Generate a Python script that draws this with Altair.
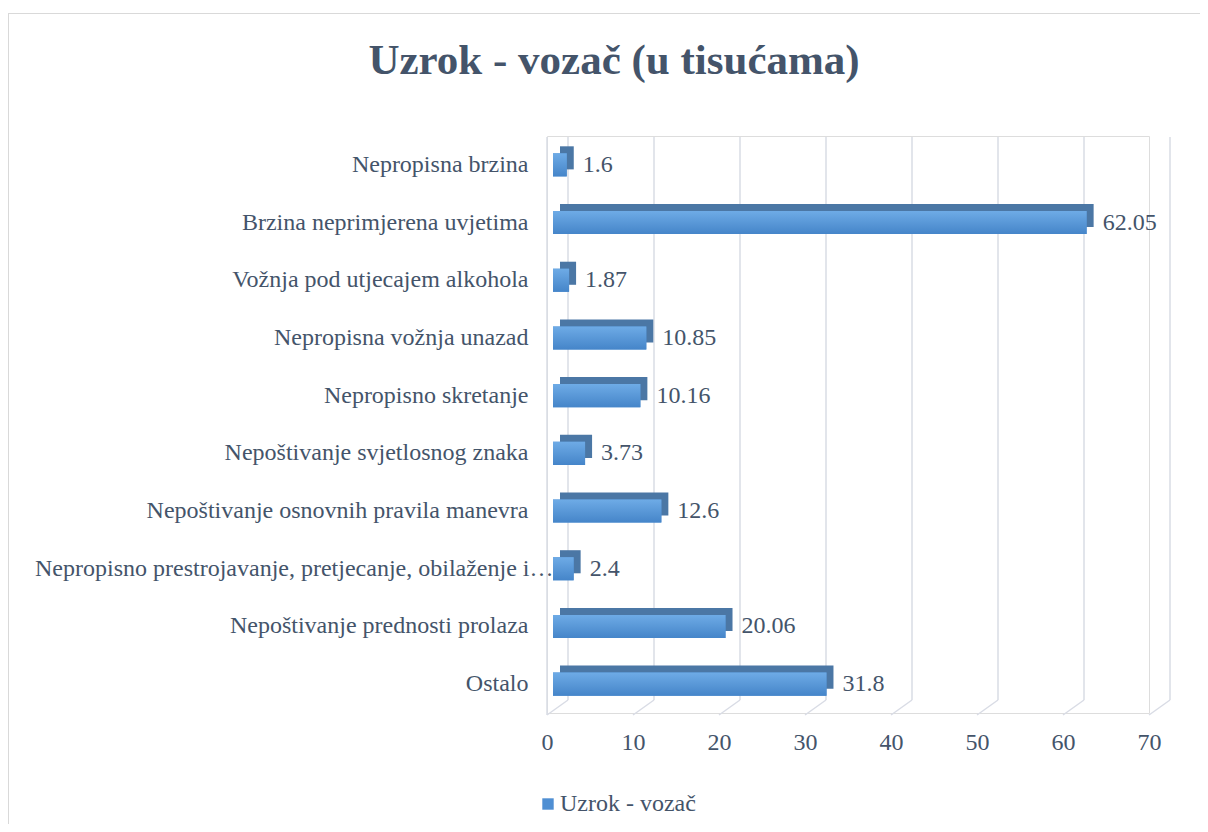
import altair as alt
import pandas as pd

title_text = "Uzrok - vozač (u tisućama)"
categories = [
    "Nepropisna brzina",
    "Brzina neprimjerena uvjetima",
    "Vožnja pod utjecajem alkohola",
    "Nepropisna vožnja unazad",
    "Nepropisno skretanje",
    "Nepoštivanje svjetlosnog znaka",
    "Nepoštivanje osnovnih pravila manevra",
    "Nepropisno prestrojavanje, pretjecanje, obilaženje i…",
    "Nepoštivanje prednosti prolaza",
    "Ostalo",
]
values = [1.6, 62.05, 1.87, 10.85, 10.16, 3.73, 12.6, 2.4, 20.06, 31.8]
value_labels = ["1.6", "62.05", "1.87", "10.85", "10.16", "3.73", "12.6", "2.4", "20.06", "31.8"]
series_name = "Uzrok - vozač"
x_ticks = [0, 10, 20, 30, 40, 50, 60, 70]

df = pd.DataFrame({"cat": categories, "val": values, "lbl": value_labels,
                   "series": [series_name] * len(categories)})
grid_df = pd.DataFrame({"t": x_ticks})
title_df = pd.DataFrame({"title": [title_text]})

TEXT = "#44546A"
FONT = "Liberation Serif"
FS = 24
W, H = 602, 577

xscale = alt.Scale(domain=[0, 70], nice=False)
yscale = alt.Scale(domain=categories, paddingInner=0.6, paddingOuter=0.3)

# decorative frame around the chart area
frame = alt.Chart(grid_df).mark_rect(fill=None, stroke="#d9d9d9", strokeWidth=1).encode(
    x=alt.value(-538.5), x2=alt.value(659), y=alt.value(-122.5), y2=alt.value(700)
)

title = alt.Chart(title_df).mark_text(font=FONT, fontSize=43, fontWeight="bold", color=TEXT,
                                      align="center", baseline="alphabetic").encode(
    x=alt.value(67), y=alt.value(-62), text="title:N"
)

grid_back = alt.Chart(grid_df).mark_rule(color="#d9dce5", strokeWidth=1.5, xOffset=21).encode(
    x=alt.X("t:Q", scale=xscale, axis=alt.Axis(
        values=x_ticks, ticks=False, domain=False, grid=False, labelFlush=False,
        labelFont=FONT, labelFontSize=FS, labelColor=TEXT, labelPadding=17,
        title=None)),
    y=alt.value(1), y2=alt.value(564),
)
grid_floor = alt.Chart(grid_df).mark_rule(color="#d9dce5", strokeWidth=1.5, xOffset=21, x2Offset=0).encode(
    x=alt.X("t:Q", scale=xscale), x2="t:Q",
    y=alt.value(564), y2=alt.value(579),
)
wall = alt.Chart(grid_df).transform_filter("datum.t == 0").mark_rule(color="#d9dce5", strokeWidth=1.5).encode(
    x=alt.X("t:Q", scale=xscale), y=alt.value(1), y2=alt.value(579),
)

y_enc = alt.Y("cat:N", scale=yscale, sort=categories, axis=alt.Axis(
    ticks=False, domain=False, grid=False, title=None,
    labelFont=FONT, labelFontSize=FS, labelColor=TEXT, labelLimit=700,
    labelPadding={"condition": {"test": "indexof(datum.value, 'prestroj') >= 0", "value": -6}, "value": 19},
))

back = alt.Chart(df).mark_bar(color="#4b77a5", xOffset=13, x2Offset=13, yOffset=-7, y2Offset=-7).encode(
    x=alt.X("val:Q", scale=xscale), x2=alt.datum(0), y=y_enc,
)
front_legend = alt.Chart(df).mark_bar(xOffset=6, x2Offset=6).encode(
    x=alt.X("val:Q", scale=xscale), x2=alt.datum(0), y=y_enc,
    color=alt.Color("series:N", scale=alt.Scale(range=["#4f8fd3"]), legend=alt.Legend(
        title=None, orient="none", legendX=-11, legendY=656, symbolType="square",
        symbolSize=130, symbolStrokeWidth=0, labelFont=FONT, labelFontSize=FS, labelColor=TEXT,
        labelOffset=0)),
)
front = alt.Chart(df).mark_bar(
    xOffset=6, x2Offset=6,
    color=alt.Gradient(gradient="linear", x1=0, x2=0, y1=0, y2=1,
                       stops=[alt.GradientStop(offset=0, color="#6eabe6"),
                              alt.GradientStop(offset=1, color="#4585c9")]),
).encode(x=alt.X("val:Q", scale=xscale), x2=alt.datum(0), y=y_enc)

labels = alt.Chart(df).mark_text(align="left", baseline="middle", xOffset=22,
                                 font=FONT, fontSize=FS, color=TEXT).encode(
    x=alt.X("val:Q", scale=xscale), y=y_enc, text="lbl:N",
)

chart = alt.layer(frame, title, grid_back, grid_floor, wall, back, front_legend, front, labels).properties(
    width=W, height=H,
    autosize=alt.AutoSizeParams(type="none"),
    padding={"left": 539, "top": 128, "right": 51, "bottom": 111},
).configure_view(stroke=None).configure(background="white")

chart.save("out.html", embed_options={"renderer": "svg", "actions": False})
